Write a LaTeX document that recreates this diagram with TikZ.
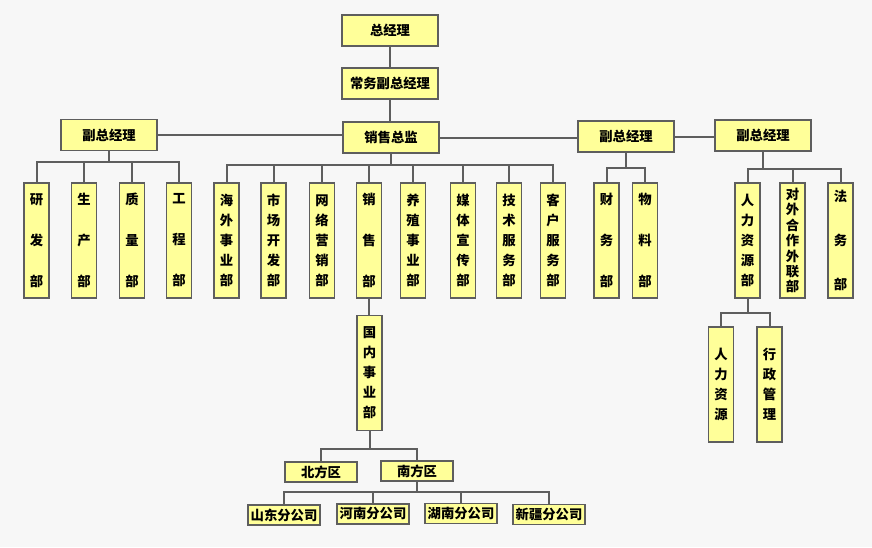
\documentclass[tikz,border=0pt]{standalone}
\usepackage{fontspec}
\newfontfamily\cjk{Noto Sans CJK SC}
\definecolor{bgc}{HTML}{F7F7F7}
\definecolor{boxc}{HTML}{FFFF99}
\definecolor{linec}{HTML}{5E5E5E}

\begin{document}
\begin{tikzpicture}[x=0.75pt,y=-0.75pt,
    box/.style={draw=linec,line width=0.8pt,fill=boxc,inner sep=0pt,align=center},
    hbox/.style={box,minimum width=72pt,minimum height=23.25pt,font=\cjk\bfseries\fontsize{10}{12}\selectfont},
    sbox/.style={box,minimum width=54pt,minimum height=15pt,font=\cjk\bfseries\fontsize{10}{12}\selectfont},
    vbox/.style={box,minimum width=18.75pt,minimum height=86.25pt,font=\cjk\bfseries\fontsize{10}{#1}\selectfont},
    vbox/.default=15pt,
    link/.style={draw=linec,line width=1.5pt}]
        \fill[bgc] (0,0) rectangle (872,547);
        % top
        \node[hbox] (gm)  at (390,30.5)  {总经理};
        \node[hbox] (egm) at (390,83.5)  {常务副总经理};
        \node[hbox] (sd)  at (391,137.5) {销售总监};
        \node[hbox] (vpL) at (109,135)   {副总经理};
        \node[hbox] (vpM) at (626,136.5) {副总经理};
        \node[hbox] (vpR) at (763,135.5) {副总经理};
        % departments
        \node[vbox=30.75pt] (rd)   at (36.5,240.5) {研\\发\\部};
        \node[vbox=30.75pt] (prod) at (84,240.5)   {生\\产\\部};
        \node[vbox=30.75pt] (qc)   at (132,240.5)  {质\\量\\部};
        \node[vbox=30.75pt] (eng)  at (179,240.5)  {工\\程\\部};
        \node[vbox] (ovs)   at (226.5,240.5) {海\\外\\事\\业\\部};
        \node[vbox] (mkt)   at (273.5,240.5) {市\\场\\开\\发\\部};
        \node[vbox] (web)   at (322,240.5)   {网\\络\\营\\销\\部};
        \node[vbox=30.75pt] (sales) at (369,240.5) {销\\售\\部};
        \node[vbox] (breed) at (413,240.5)   {养\\殖\\事\\业\\部};
        \node[vbox] (media) at (463,240.5)   {媒\\体\\宣\\传\\部};
        \node[vbox] (tech)  at (509,240.5)   {技\\术\\服\\务\\部};
        \node[vbox] (cs)    at (553,240.5)   {客\\户\\服\\务\\部};
        \node[vbox=30.75pt] (fin) at (606.5,240.5) {财\\务\\部};
        \node[vbox=30.75pt] (mat) at (645,240.5)   {物\\料\\部};
        \node[vbox] (hr)    at (747.5,240.5) {人\\力\\资\\源\\部};
        \node[vbox=11.6pt] (coop) at (792.5,240.5) {对\\外\\合\\作\\外\\联\\部};
        \node[vbox=33pt] (legal) at (840.5,240.5) {法\\务\\部};
        % lower levels
        \node[vbox] (hrs)   at (721,384.5)   {人\\力\\资\\源};
        \node[vbox] (admin) at (769.5,384.5) {行\\政\\管\\理};
        \node[vbox] (dom)   at (369.5,373)   {国\\内\\事\\业\\部};
        \node[sbox] (north) at (321,472) {北方区};
        \node[sbox] (south) at (417,471) {南方区};
        \node[sbox] (sdong) at (284,515)   {山东分公司};
        \node[sbox] (henan) at (373,514)   {河南分公司};
        \node[sbox] (hunan) at (461,513.5) {湖南分公司};
        \node[sbox] (xj)    at (549,514.5) {新疆分公司};
        % connectors
        \draw[link] (gm) -- (egm);
        \draw[link] (egm.south) -- (egm.south |- sd.north);
        \draw[link] (vpL.east) -- (vpL.east -| sd.west);
        \draw[link] (sd.east) -- (sd.east -| vpM.west);
        \draw[link] (vpM.east) -- (vpM.east -| vpR.west);
        \foreach \c in {rd,prod,qc,eng}
            \draw[link] (vpL.south) -- ++(0,11) -| (\c.north);
        \foreach \c in {ovs,mkt,web,sales,breed,media,tech,cs}
            \draw[link] (sd.south) -- ++(0,11) -| (\c.north);
        \foreach \c in {fin,mat}
            \draw[link] (vpM.south) -- ++(0,15) -| (\c.north);
        \foreach \c in {hr,coop,legal}
            \draw[link] (vpR.south) -- ++(0,17) -| (\c.north);
        \foreach \c in {hrs,admin}
            \draw[link] (hr.south) -- ++(0,14) -| (\c.north);
        \draw[link] (sales.south) -- (sales.south |- dom.north);
        \foreach \c in {north,south}
            \draw[link] (dom.south) -- ++(0,18) -| (\c.north);
        \foreach \c in {sdong,henan,hunan,xj}
            \draw[link] (south.south) -- ++(0,10) -| (\c.north);
\end{tikzpicture}
\end{document}
